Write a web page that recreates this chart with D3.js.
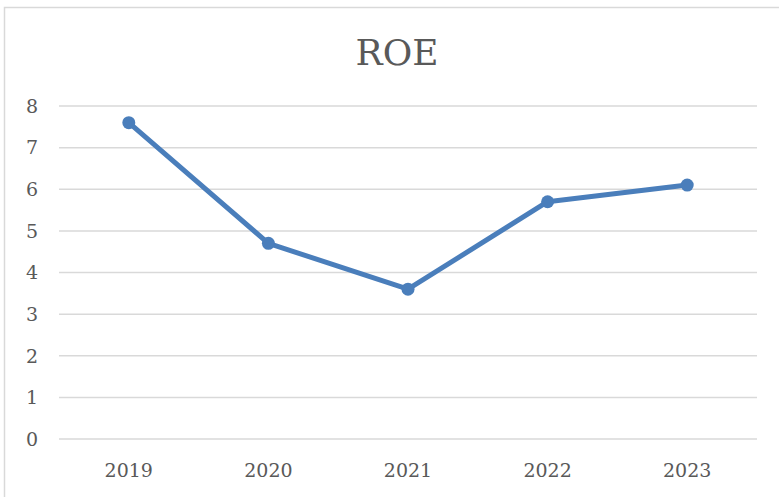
<!DOCTYPE html>
<html>
<head>
<meta charset="utf-8">
<script src="https://cdn.jsdelivr.net/npm/d3@7"></script>
<style>
  body { margin: 0; background: #fff; }
  text { font-family: "DejaVu Serif", serif; fill: #595959; }
</style>
</head>
<body>
<div id="chart"></div>
<script>
// data
var years = ["2019", "2020", "2021", "2022", "2023"];
var roe = [7.6, 4.7, 3.6, 5.7, 6.1];
var yTicks = [0, 1, 2, 3, 4, 5, 6, 7, 8];

var W = 779, H = 497;
var margin = {top: 106, right: 22, bottom: 58, left: 59},
    width = W - margin.left - margin.right,
    height = H - margin.top - margin.bottom;

var svg = d3.select("#chart")
  .append("svg")
    .attr("width", W)
    .attr("height", H);

// chart border
svg.append("rect")
  .attr("x", 4.5).attr("y", 7.5)
  .attr("width", W + 10).attr("height", H + 10)
  .attr("fill", "none")
  .attr("stroke", "#d9d9d9")
  .attr("stroke-width", 1.5);

var g = svg.append("g")
  .attr("transform", "translate(" + margin.left + "," + margin.top + ")");

var x = d3.scaleBand()
  .domain(years)
  .range([0, width]);

var y = d3.scaleLinear()
  .domain([0, 8])
  .range([height, 0]);

// gridlines
g.selectAll(".grid")
  .data(yTicks)
  .enter().append("line")
    .attr("x1", 0).attr("x2", width)
    .attr("y1", function(d) { return y(d); })
    .attr("y2", function(d) { return y(d); })
    .attr("stroke", "#d9d9d9")
    .attr("stroke-width", 1.5);

// y labels
g.selectAll(".ylab")
  .data(yTicks)
  .enter().append("text")
    .attr("x", -21)
    .attr("y", function(d) { return y(d); })
    .attr("dy", "0.36em")
    .attr("text-anchor", "end")
    .style("font-size", "19px")
    .text(function(d) { return d; });

// x labels
g.selectAll(".xlab")
  .data(years)
  .enter().append("text")
    .attr("x", function(d) { return x(d) + x.bandwidth() / 2; })
    .attr("y", height + 38)
    .attr("text-anchor", "middle")
    .style("font-size", "19px")
    .text(function(d) { return d; });

// the line
g.append("path")
  .datum(roe)
  .attr("fill", "none")
  .attr("stroke", "#4a7ebb")
  .attr("stroke-width", 5)
  .attr("stroke-linejoin", "round")
  .attr("d", d3.line()
    .x(function(d, i) { return x(years[i]) + x.bandwidth() / 2; })
    .y(function(d) { return y(d); })
  );

g.selectAll(".dot")
  .data(roe)
  .enter().append("circle")
    .attr("cx", function(d, i) { return x(years[i]) + x.bandwidth() / 2; })
    .attr("cy", function(d) { return y(d); })
    .attr("r", 6.5)
    .attr("fill", "#4a7ebb");

// title
svg.append("text")
  .attr("x", 397)
  .attr("y", 65)
  .attr("text-anchor", "middle")
  .style("font-size", "36px")
  .text("ROE");
</script>
</body>
</html>
